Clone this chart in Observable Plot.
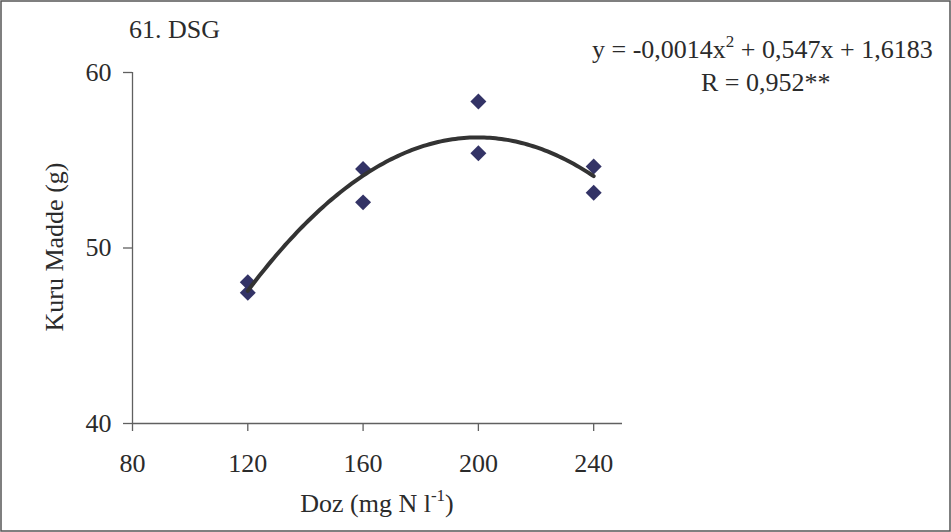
<!DOCTYPE html>
<html>
<head>
<meta charset="utf-8">
<script src="https://cdn.jsdelivr.net/npm/d3@7"></script>
<script src="https://cdn.jsdelivr.net/npm/@observablehq/plot@0.6"></script>
<style>
  html, body { margin: 0; padding: 0; background: #fff; }
  #chart { width: 951px; height: 532px; }
</style>
</head>
<body>
<div id="chart"></div>
<script>
// ---- data ----
const doses = [120, 120, 160, 160, 200, 200, 240, 240];
const dryMatter = [48.05, 47.45, 54.5, 52.6, 58.35, 55.4, 54.65, 53.15];
const xTicks = [80, 120, 160, 200, 240];
const yTicks = [40, 50, 60];
const xDomain = [80, 250];
const yDomain = [40, 60];
const titleText = "61. DSG";
const equationParts = ["y = -0,0014x", "2", " + 0,547x + 1,6183"];
const rText = "R = 0,952**";
const xLabelParts = ["Doz (mg N l", "-1", ")"];
const yLabelText = "Kuru Madde (g)";

// ---- styling ----
const fontFamily = "'Liberation Serif', 'Times New Roman', serif";
const textColor = "#2b2b2b";
const axisColor = "#606060";
const pointColor = "#333366";
const curveColor = "#333333";

const points = doses.map((d, i) => ({dose: d, value: dryMatter[i]}));

// least-squares quadratic trend fitted to the points
function quadFit(xs, ys) {
  const c = d3.mean(xs);
  const S = [0, 0, 0, 0, 0], T = [0, 0, 0];
  xs.forEach((x0, i) => {
    const u = x0 - c;
    for (let k = 0; k < 5; k++) S[k] += u ** k;
    for (let k = 0; k < 3; k++) T[k] += ys[i] * u ** k;
  });
  const A = [[S[0], S[1], S[2], T[0]], [S[1], S[2], S[3], T[1]], [S[2], S[3], S[4], T[2]]];
  for (let i = 0; i < 3; i++) {
    for (let j = i + 1; j < 3; j++) {
      const f = A[j][i] / A[i][i];
      for (let k = i; k < 4; k++) A[j][k] -= f * A[i][k];
    }
  }
  const a = [0, 0, 0];
  for (let i = 2; i >= 0; i--) {
    let s = A[i][3];
    for (let k = i + 1; k < 3; k++) s -= A[i][k] * a[k];
    a[i] = s / A[i][i];
  }
  return x => a[0] + a[1] * (x - c) + a[2] * (x - c) ** 2;
}
const fit = quadFit(doses, dryMatter);
const fitLine = d3.range(d3.min(doses), d3.max(doses) + 0.01, 1).map(x => ({dose: x, value: fit(x)}));

const plot = Plot.plot({
  width: 951,
  height: 532,
  marginLeft: 132,
  marginRight: 329,
  marginTop: 72,
  marginBottom: 109,
  x: {domain: xDomain},
  y: {domain: yDomain},
  style: {fontFamily, fontSize: "26px", color: textColor, background: "#fff", overflow: "visible"},
  marks: [
    Plot.ruleY([yDomain[0]], {stroke: axisColor, strokeWidth: 1.3}),
    Plot.ruleX([xDomain[0]], {y1: yDomain[0], y2: yDomain[1], stroke: axisColor, strokeWidth: 1.3}),
    Plot.axisX({ticks: xTicks, tickSize: 8, tickPadding: 22, label: null, stroke: axisColor, strokeWidth: 1.3}),
    Plot.axisY({ticks: yTicks, tickSize: 9, tickPadding: 12, label: null, stroke: axisColor, strokeWidth: 1.3}),
    Plot.dot(points, {x: "dose", y: "value", symbol: "diamond2", r: 7.2, fill: pointColor, stroke: "none"}),
    Plot.line(fitLine, {x: "dose", y: "value", stroke: curveColor, strokeWidth: 4, strokeLinecap: "round"})
  ]
});

const svg = d3.select(plot);
// outer border
svg.append("rect")
  .attr("x", 1).attr("y", 1).attr("width", 949).attr("height", 530)
  .attr("fill", "none").attr("stroke", "#555").attr("stroke-width", 1.5);

const txt = svg.append("g")
  .attr("font-family", fontFamily).attr("font-size", 26).attr("fill", textColor)
  .attr("text-anchor", "start");

// title
txt.append("text").attr("x", 129).attr("y", 38).text(titleText);

// equation with superscript
const eq = txt.append("text").attr("x", 592).attr("y", 58);
eq.append("tspan").text(equationParts[0]);
eq.append("tspan").attr("dy", -11).attr("font-size", 17).text(equationParts[1]);
eq.append("tspan").attr("dy", 11).text(equationParts[2]);

// R line
txt.append("text").attr("x", 701).attr("y", 91).text(rText);

// x label with superscript
const xl = txt.append("text").attr("x", 377).attr("y", 512).attr("text-anchor", "middle");
xl.append("tspan").text(xLabelParts[0]);
xl.append("tspan").attr("dy", -11).attr("font-size", 17).text(xLabelParts[1]);
xl.append("tspan").attr("dy", 11).text(xLabelParts[2]);

// y label
txt.append("text")
  .attr("transform", "translate(63,247) rotate(-90)")
  .attr("text-anchor", "middle")
  .text(yLabelText);

document.getElementById("chart").appendChild(plot);
</script>
</body>
</html>
